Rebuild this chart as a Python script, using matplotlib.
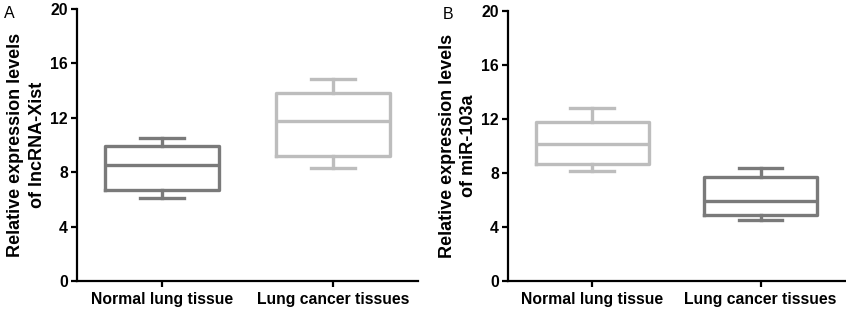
import matplotlib
matplotlib.use("Agg")
import matplotlib.pyplot as plt

plt.rcParams["font.family"] = ["Liberation Sans", "DejaVu Sans"]

groups = ["Normal lung tissue", "Lung cancer tissues"]

# five-number summaries: low whisker, Q1, median, Q3, high whisker
xist_lo = [6.1, 8.33]
xist_q1 = [6.7, 9.2]
xist_med = [8.53, 11.8]
xist_q3 = [9.93, 13.85]
xist_hi = [10.55, 14.85]

mir_lo = [8.17, 4.49]
mir_q1 = [8.64, 4.89]
mir_med = [10.12, 5.9]
mir_q3 = [11.8, 7.68]
mir_hi = [12.79, 8.39]

yticks = [0, 4, 8, 12, 16, 20]


def stats(lo, q1, med, q3, hi):
    return [dict(whislo=a, q1=b, med=c, q3=d, whishi=e, fliers=[])
            for a, b, c, d, e in zip(lo, q1, med, q3, hi)]


def panel(ax, st, colors, ylabel, letter, lx):
    for i, (s, c) in enumerate(zip(st, colors)):
        ax.bxp([s], positions=[i + 1], widths=0.67, showfliers=False,
               boxprops=dict(color=c, lw=2.4),
               medianprops=dict(color=c, lw=2.4),
               whiskerprops=dict(color=c, lw=2.4),
               capprops=dict(color=c, lw=2.4),
               capwidths=0.26)
    ax.set_xlim(0.5, 2.5)
    ax.set_ylim(0, 20)
    ax.set_yticks(yticks)
    ax.set_xticks([1, 2])
    ax.set_xticklabels(groups)
    for sp in ("top", "right"):
        ax.spines[sp].set_visible(False)
    for sp in ("left", "bottom"):
        ax.spines[sp].set_linewidth(1.6)
    ax.tick_params(width=1.6, length=4, labelsize=11.3, pad=2.5)
    ax.tick_params(axis="x", pad=4)
    for t in ax.get_xticklabels() + ax.get_yticklabels():
        t.set_fontweight("bold")
    ax.set_ylabel(ylabel, fontsize=13, fontweight="bold", labelpad=3,
                  linespacing=1.35)
    ax.text(lx, 0.985, letter, transform=ax.transAxes, fontsize=11.5,
            ha="left", va="center")


fig = plt.figure(figsize=(8.46, 3.12), dpi=100)
axA = fig.add_axes([0.091, 0.099, 0.403, 0.872])
axB = fig.add_axes([0.6005, 0.099, 0.398, 0.866])

panel(axA, stats(xist_lo, xist_q1, xist_med, xist_q3, xist_hi),
      ["#7a7a7a", "#bdbdbd"], "Relative expression levels\nof lncRNA-Xist", "A", -0.215)
panel(axB, stats(mir_lo, mir_q1, mir_med, mir_q3, mir_hi),
      ["#bdbdbd", "#7a7a7a"], "Relative expression levels\nof miR-103a", "B", -0.195)

fig.savefig("out.png", dpi=100)
